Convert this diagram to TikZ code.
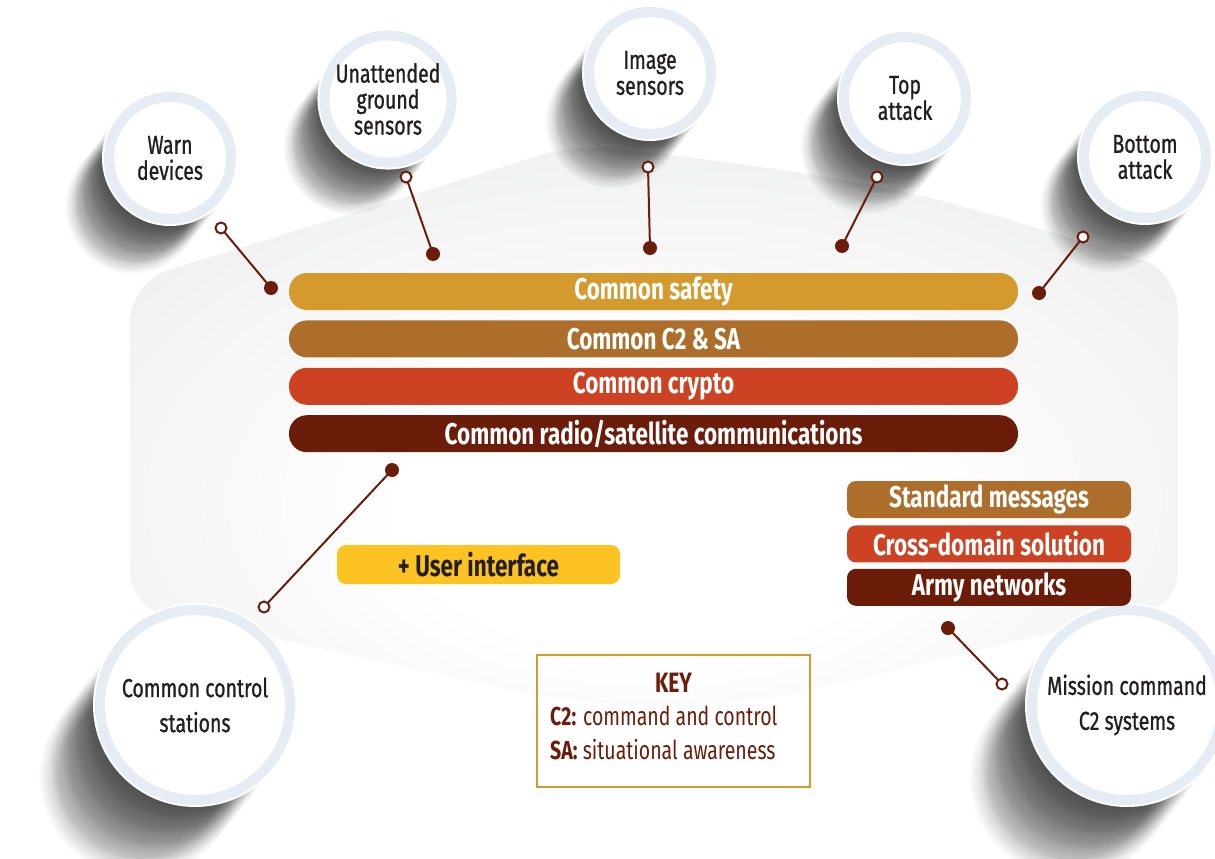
\documentclass[tikz,border=0pt]{standalone}
\usepackage{fontspec}
\setmainfont{Fira Sans}[FakeStretch=0.75]
\newfontfamily\sensorfont{Fira Sans}[FakeStretch=0.75, FakeBold=0.9]
\usetikzlibrary{positioning, backgrounds, fadings, calc}

\definecolor{safetygold}{HTML}{D49A2E}
\definecolor{c2brown}{HTML}{AD6E2B}
\definecolor{cryptored}{HTML}{CC4222}
\definecolor{radiored}{HTML}{6B1D0A}
\definecolor{uiyellow}{HTML}{FCC323}
\definecolor{ringblue}{HTML}{E6ECF4}
\definecolor{bggray}{HTML}{E2E3E4}
\definecolor{inkgray}{HTML}{231F20}

\pgfdeclareradialshading{bgshade}{\pgfpoint{0bp}{-8bp}}{color(0bp)=(white); color(12bp)=(white); color(48bp)=(bggray); color(80bp)=(bggray)}

\tikzset{
	sensor/.style={circle, inner sep=0pt, minimum size=122pt, fill=white, draw=ringblue, line width=10pt,
		preaction={draw=white, line width=14pt}, text=inkgray, align=center, font=\sensorfont\fontsize{26}{26}\selectfont},
	bigsensor/.style={sensor, minimum size=190pt, font=\sensorfont\fontsize{26}{35}\selectfont},
	layer/.style={rounded corners=18pt, minimum width=729pt, minimum height=37pt, inner sep=0pt,
		text=white, font=\bfseries\fontsize{30}{30}\selectfont},
	tag/.style={layer, rounded corners=9pt, minimum width=284pt},
	link/.style={radiored, line width=2pt},
}

\begin{document}
\begin{tikzpicture}[x=1pt, y=-1pt]
	\useasboundingbox (0,0) rectangle (1215,859);

	\node[sensor] (warn) at (170,158) {Warn\\devices};
	\node[sensor] (ugs) at (388,99) {Unattended\\ground\\sensors};
	\node[sensor] (image) at (650,73) {Image\\sensors};
	\node[sensor] (top) at (905,98) {Top\\attack};
	\node[sensor] (bottom) at (1145,157) {Bottom\\attack};
	\node[bigsensor] (ccs) at (195,705) {Common control\\stations};
	\node[bigsensor] (mcs) at (1127,705) {Mission command\\C2 systems};

	\node[layer, fill=safetygold] (safety) at (653.5,291.5) {Common safety};
	\node[layer, fill=c2brown, below=10pt of safety] (c2sa) {Common C2 \& SA};
	\node[layer, fill=cryptored, below=10pt of c2sa] (crypto) {Common crypto};
	\node[layer, fill=radiored, below=10pt of crypto] (radio) {Common radio/satellite communications};

	\node[tag, fill=c2brown] (stdmsg) at (989,499.5) {Standard messages};
	\node[tag, fill=cryptored, below=7pt of stdmsg] (xdomain) {Cross-domain solution};
	\node[tag, fill=radiored, below=6pt of xdomain] (armynet) {Army networks};

	\node[tag, fill=uiyellow, text=inkgray, minimum height=39pt, minimum width=283pt] (ui) at (478.5,564.5) {+ User interface};

	\node[draw=safetygold, line width=2.5pt, minimum width=273pt, minimum height=132pt] (key) at (673.5,721) {};
	\node[text=radiored, font=\bfseries\fontsize{28}{28}\selectfont] (keyhead) at (673.5,683) {KEY};
	\node[text=radiored, anchor=west, align=left, inner sep=0pt, font=\fontsize{26}{34}\selectfont] (keytext) at (550,733)
		{\textbf{C2:} command and control\\\textbf{SA:} situational awareness};

	\coordinate (warn-o) at (221,228);   \coordinate (warn-d) at (271,288);
	\coordinate (ugs-o) at (406,177);    \coordinate (ugs-d) at (433,254);
	\coordinate (image-o) at (648,167);  \coordinate (image-d) at (650,248);
	\coordinate (top-o) at (877,177);    \coordinate (top-d) at (842,246);
	\coordinate (bottom-o) at (1083,237); \coordinate (bottom-d) at (1039,293);
	\coordinate (ccs-o) at (264,607);    \coordinate (ccs-d) at (392,470);
	\coordinate (mcs-o) at (1002,684);   \coordinate (mcs-d) at (948,628);

	\foreach \n in {warn,ugs,image,top,bottom,ccs,mcs} {
		\draw[link] (\n-o) -- (\n-d);
		\fill[radiored] (\n-d) circle (7pt);
		\draw[link, fill=white] (\n-o) circle (5.5pt);
	}

	\begin{scope}[on background layer]
		\shade[shading=bgshade] (130,450) [rounded corners=40pt] -- (130,282) -- (580,143) [sharp corners]
			.. controls (900,185) .. (1150,263) [rounded corners=30pt] -- (1178,280) -- (1178,603)
			[rounded corners=150pt] -- (667,724) [rounded corners=35pt] -- (130,607) -- cycle;
		\foreach \n/\r in {warn/68, ugs/68, image/68, top/68, bottom/68, ccs/101, mcs/102}
			\foreach \k in {1,...,5}
				\fill[black, opacity=0.21, path fading=circle with fuzzy edge 20 percent]
					($(\n.center)+(-\k*0.11*\r, \k*0.14*\r)$) circle (\r pt);
	\end{scope}
\end{tikzpicture}
\end{document}
